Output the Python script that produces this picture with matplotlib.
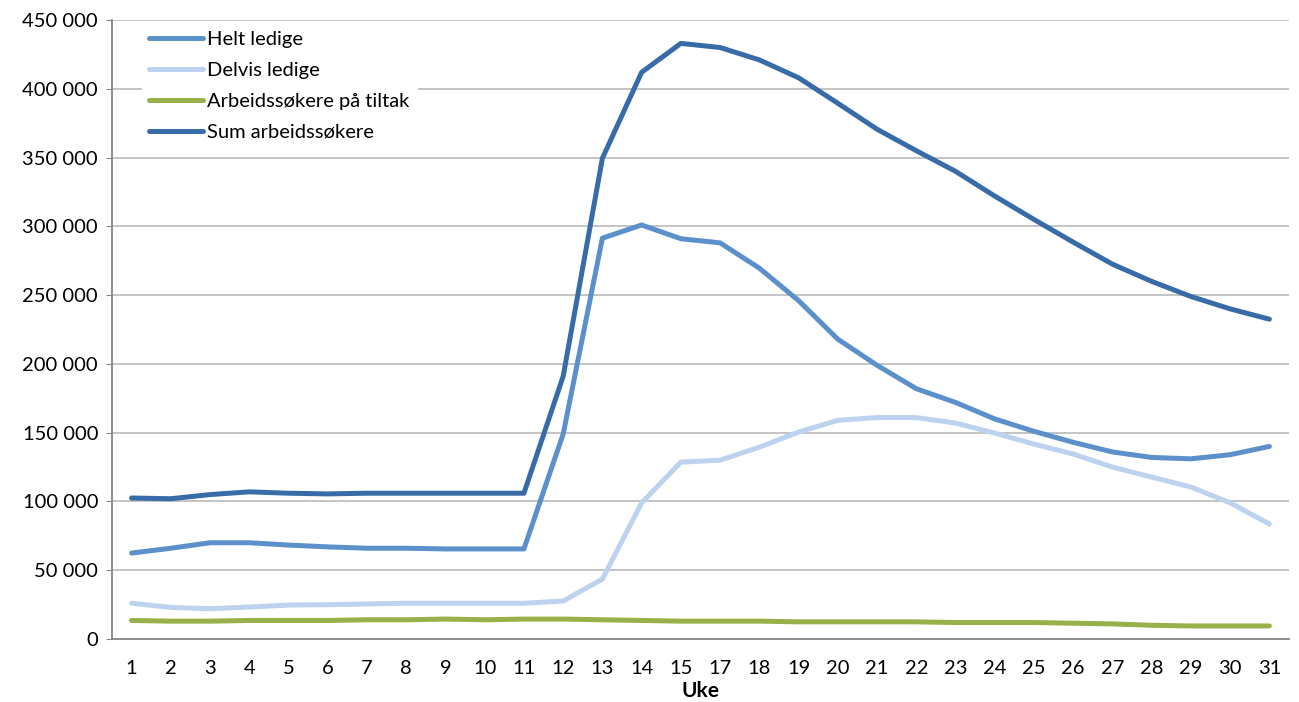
import numpy as np
import matplotlib.pyplot as plt
from matplotlib.ticker import FuncFormatter

plt.rcParams['font.family'] = ['Lato', 'DejaVu Sans']

uker = ['1', '2', '3', '4', '5', '6', '7', '8', '9', '10', '11', '12', '13', '14', '15',
        '17', '18', '19', '20', '21', '22', '23', '24', '25', '26', '27', '28', '29', '30', '31']

helt_ledige = [62500, 66000, 70000, 70000, 68300, 67000, 66000, 66000, 65500, 65500, 65500,
               149000, 291400, 301000, 291000, 288000, 269600, 246000, 218000, 199000, 182000,
               172000, 160000, 151000, 143000, 136000, 132000, 131000, 134000, 140000]
delvis_ledige = [26000, 23000, 22000, 23300, 24700, 25000, 25500, 26000, 26000, 26000, 26000,
                 27600, 43600, 99000, 128600, 130000, 139500, 150400, 159000, 161000, 161000,
                 157000, 149700, 141700, 134500, 125000, 117700, 110500, 99000, 83600]
tiltak = [13500, 13000, 13000, 13500, 13500, 13500, 14000, 14000, 14500, 14000, 14500,
          14500, 14000, 13500, 13000, 13000, 13000, 12500, 12500, 12500, 12500, 12000,
          12000, 12000, 11500, 11000, 10000, 9500, 9500, 9500]
sum_arbeidss = [102500, 102000, 105000, 107000, 106000, 105500, 106000, 106000, 106000, 106000,
                106000, 191000, 349500, 412000, 433000, 430000, 421000, 408000, 389500, 370600,
                355000, 340000, 322000, 305000, 288500, 272500, 260000, 249000, 240000, 232500]

fig = plt.figure(figsize=(12.99, 7.02), dpi=100)
ax = fig.add_axes([0.0862, 0.0897, 0.9061, 0.8818])

x = np.arange(len(uker))
lw = 3.6
ax.plot(x, helt_ledige, color='#5B90CB', lw=lw, solid_capstyle='round', solid_joinstyle='round', label='Helt ledige')
ax.plot(x, delvis_ledige, color='#BCD2EE', lw=lw, solid_capstyle='round', solid_joinstyle='round', label='Delvis ledige')
ax.plot(x, tiltak, color='#97B04A', lw=lw, solid_capstyle='round', solid_joinstyle='round', label='Arbeidssøkere på tiltak')
ax.plot(x, sum_arbeidss, color='#386CA8', lw=lw, solid_capstyle='round', solid_joinstyle='round', label='Sum arbeidssøkere')

ax.set_xlim(-0.5, len(uker) - 0.5)
ax.set_ylim(0, 450000)
ax.set_yticks(np.arange(0, 450001, 50000))
ax.yaxis.set_major_formatter(FuncFormatter(lambda v, p: f'{int(v):,}'.replace(',', ' ')))
ax.set_xticks(x)
ax.set_xticklabels(uker)
ax.tick_params(axis='x', length=0, pad=15, labelsize=14.5)
ax.tick_params(axis='y', length=4, color='#868686', pad=6, labelsize=14.5)

ax.grid(axis='y', color='#BFBFBF', lw=1.3)
ax.set_axisbelow(True)
for s in ['top', 'right']:
    ax.spines[s].set_visible(False)
for s in ['left', 'bottom']:
    ax.spines[s].set_color('#868686')
    ax.spines[s].set_linewidth(1.3)

# aksetittel under tallene
fig.text(0.539, 11 / 702, 'Uke', fontsize=15, fontweight='bold', ha='center', va='center')

leg = ax.legend(loc='upper left', bbox_to_anchor=(0.022, 1.0), frameon=True, fontsize=14.5,
                handlelength=2.7, handletextpad=0.2, labelspacing=0.68, borderaxespad=0.2,
                borderpad=0.35)
leg.get_frame().set_facecolor('white')
leg.get_frame().set_edgecolor('white')
leg.get_frame().set_alpha(1)

fig.savefig('out.png', dpi=100)
